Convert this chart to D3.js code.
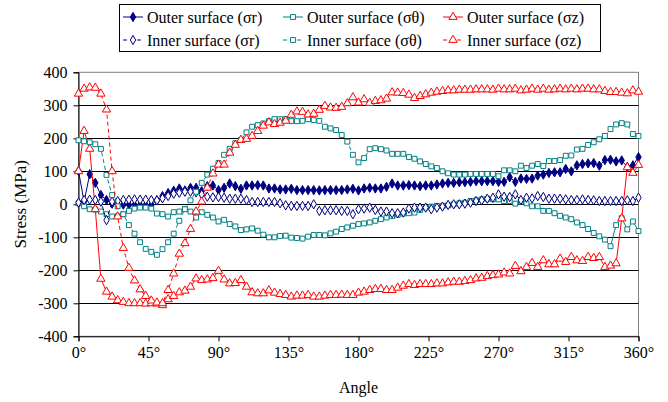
<!DOCTYPE html>
<html>
<head>
<meta charset="utf-8">
<script src="https://cdn.jsdelivr.net/npm/d3@7"></script>
<style>
  html, body { margin: 0; padding: 0; background: #fff; }
  svg { display: block; }
</style>
</head>
<body>
<svg id="chart" width="668" height="402"></svg>
<script>
const FONT = "'Liberation Serif', 'Times New Roman', 'DejaVu Serif', serif";

// Sampling grid: one reading every 3.6 degrees around the circumference (101 stations)
const angleStep = 3.6;
const angles = d3.range(101).map(i => i * angleStep);

// Stress readings in MPa, one value per station
const outerSr = [101, 8, 91, 65, 28, 13, 2, 0, -1, -1, -2, -2, -2, -2, 12, 25, 34, 41, 48, 42,
  50, 50, 40, 55, 57, 43, 50, 63, 55, 47, 57, 57, 58, 57, 48, 48, 45, 45, 47, 43,
  43, 43, 43, 42, 43, 43, 43, 43, 45, 47, 42, 48, 50, 48, 48, 53, 63, 57, 57, 58,
  57, 55, 57, 57, 60, 63, 65, 65, 67, 67, 68, 70, 70, 70, 70, 68, 68, 82, 68, 78,
  77, 78, 87, 90, 95, 97, 97, 107, 100, 118, 122, 124, 125, 117, 134, 135, 130, 133, 113, 118, 143];

const outerSt = [3, -6, -15, -16, -22, -30, -37, -36, -30, -20, -13, -10, -10, -13, -28, -30, -37, -24, -22, -14,
  -22, -40, -24, -32, -40, -52, -47, -60, -67, -78, -76, -73, -80, -92, -100, -100, -96, -95, -101, -102,
  -104, -98, -93, -93, -94, -88, -83, -75, -70, -65, -60, -58, -55, -50, -45, -40, -36, -32, -28, -27,
  -25, -17, -10, -7, -5, -5, -3, 0, 3, 5, 10, 12, 15, 17, 15, 15, 10, 10, 2, 8,
  3, -6, -6, -20, -20, -27, -35, -40, -45, -55, -63, -75, -87, -97, -107, -127, -63, -42, -76, -52, -81];

const outerSz = [100, 222, 168, -15, -226, -265, -280, -291, -296, -300, -300, -300, -301, -300, -301, -306, -288, -278, -267, -262,
  -250, -225, -230, -228, -224, -202, -228, -240, -239, -230, -250, -267, -270, -270, -261, -268, -272, -275, -280, -277,
  -277, -275, -280, -280, -277, -275, -275, -274, -275, -275, -268, -265, -260, -257, -257, -260, -260, -253, -247, -242,
  -245, -242, -242, -242, -240, -240, -237, -235, -235, -233, -230, -225, -223, -218, -215, -213, -207, -210, -187, -203,
  -190, -178, -190, -170, -182, -182, -165, -175, -160, -170, -172, -160, -163, -160, -190, -186, -179, -43, 112, 95, 119];

const innerSr = [5, 13, 14, 13, 8, -48, 8, 10, 13, 14, 15, 14, 14, 13, 12, 18, 25, 32, 35, 38,
  38, 36, 30, 23, 21, 22, 20, 17, 17, 17, 13, 7, 7, 7, 7, 7, 3, -3, -5, -5,
  -5, -5, 0, -20, -18, -18, -18, -20, -20, -30, -15, -13, -10, -17, -22, -22, -27, -27, -25, -13,
  -10, -10, -10, -15, -10, -7, -2, 0, 0, 2, 5, 10, 12, 17, 20, 30, 23, 22, 30, 13,
  20, 18, 25, 22, 17, 17, 17, 15, 13, 13, 15, 13, 12, 10, 10, 10, 10, 10, 12, 10, 20];

const innerSt = [194, 191, 188, 182, 168, 89, 28, -6, -30, -63, -89, -115, -135, -144, -153, -136, -115, -89, -50, -15,
  12, 38, 65, 90, 108, 125, 150, 168, 185, 195, 218, 235, 240, 245, 252, 258, 258, 258, 252, 252,
  253, 258, 255, 253, 235, 230, 225, 210, 190, 150, 127, 140, 167, 170, 167, 163, 153, 153, 153, 143,
  138, 130, 122, 115, 110, 100, 94, 90, 90, 90, 92, 92, 92, 92, 92, 85, 103, 103, 100, 117,
  110, 117, 122, 116, 131, 131, 134, 147, 148, 166, 168, 180, 188, 197, 207, 228, 242, 246, 242, 213, 207];

const innerSz = [335, 350, 354, 353, 335, 287, 100, -37, -133, -193, -231, -258, -278, -292, -298, -300, -260, -210, -150, -118,
  -75, -22, 8, 50, 93, 120, 120, 156, 180, 195, 198, 207, 222, 238, 248, 243, 247, 253, 271, 281,
  280, 272, 274, 286, 298, 293, 292, 295, 306, 324, 308, 318, 307, 313, 315, 320, 339, 338, 337, 332,
  322, 328, 333, 338, 341, 343, 345, 345, 347, 347, 347, 348, 348, 348, 347, 350, 348, 348, 350, 345,
  347, 350, 347, 350, 347, 348, 350, 348, 350, 348, 350, 350, 348, 348, 343, 340, 340, 338, 336, 345, 341];

// Axis ticks
const yTicks = [-400, -300, -200, -100, 0, 100, 200, 300, 400];
const xTicks = [0, 45, 90, 135, 180, 225, 270, 315, 360];

// Series definitions (legend order)
const seriesNames = ["Outer surface (\u03C3r)", "Outer surface (\u03C3\u03B8)", "Outer surface (\u03C3z)",
                     "Inner surface (\u03C3r)", "Inner surface (\u03C3\u03B8)", "Inner surface (\u03C3z)"];
const seriesValues = [outerSr, outerSt, outerSz, innerSr, innerSt, innerSz];

const NAVY = "#000080", TEAL = "#008080", RED = "#ff0000";
const styles = [
  { color: NAVY, dash: null,  marker: "diamond",  fill: NAVY },
  { color: TEAL, dash: null,  marker: "square",   fill: "#fff" },
  { color: RED,  dash: null,  marker: "triangle", fill: "#fff" },
  { color: NAVY, dash: "4,3", marker: "diamond",  fill: "#fff" },
  { color: TEAL, dash: "4,3", marker: "square",   fill: "#fff" },
  { color: RED,  dash: "4,3", marker: "triangle", fill: "#fff" }
];

const svg = d3.select("#chart");
const plot = { left: 78.5, right: 638.5, top: 72.3, bottom: 336.3 };

const x = d3.scaleLinear().domain([0, 360]).range([plot.left, plot.right]);
const y = d3.scaleLinear().domain([-400, 400]).range([plot.bottom, plot.top]);

// Plot-area frame
svg.append("rect")
  .attr("x", plot.left).attr("y", plot.top)
  .attr("width", plot.right - plot.left).attr("height", plot.bottom - plot.top)
  .attr("fill", "none").attr("stroke", "#808080").attr("stroke-width", 1);

// Horizontal gridlines
svg.append("g").selectAll("line")
  .data(yTicks.filter(v => v > -400 && v < 400))
  .join("line")
  .attr("x1", plot.left).attr("x2", plot.right)
  .attr("y1", d => Math.round(y(d)) + 0.5).attr("y2", d => Math.round(y(d)) + 0.5)
  .attr("stroke", "#000").attr("stroke-width", 1);

// Y axis
const yAxis = svg.append("g")
  .attr("transform", `translate(${plot.left},0)`)
  .call(d3.axisLeft(y).tickValues(yTicks).tickSize(5).tickPadding(6).tickFormat(d => String(d)));
yAxis.attr("font-family", null).attr("font-size", null);
yAxis.select(".domain").attr("stroke", "#000");
yAxis.selectAll(".tick line").attr("stroke", "#000");
yAxis.selectAll(".tick text").style("font-family", FONT).style("font-size", "16px").attr("fill", "#000");

// X axis
const xAxis = svg.append("g")
  .attr("transform", `translate(0,${plot.bottom})`)
  .call(d3.axisBottom(x).tickValues(xTicks).tickSize(5).tickPadding(5).tickFormat(d => d + "\u00B0"));
xAxis.attr("font-family", null).attr("font-size", null);
xAxis.select(".domain").attr("stroke", "#000");
xAxis.selectAll(".tick line").attr("stroke", "#000");
xAxis.selectAll(".tick text").style("font-family", FONT).style("font-size", "16px").attr("fill", "#000");

// Axis titles
svg.append("text")
  .attr("transform", `translate(20,${(plot.top + plot.bottom) / 2}) rotate(-90)`)
  .attr("text-anchor", "middle").attr("dominant-baseline", "central")
  .style("font-family", FONT).style("font-size", "17px").text("Stress (MPa)");
svg.append("text")
  .attr("x", (plot.left + plot.right) / 2).attr("y", 393)
  .attr("text-anchor", "middle")
  .style("font-family", FONT).style("font-size", "16px").text("Angle");

// Marker shapes
const symbolFor = {
  diamond: d3.symbol().type(d3.symbolDiamond).size(25),
  square: d3.symbol().type(d3.symbolSquare).size(24),
  triangle: d3.symbol().type(d3.symbolTriangle).size(30)
};

const line = d3.line().x(d => x(d[0])).y(d => y(d[1]));

const clipId = "plotClip";
svg.append("clipPath").attr("id", clipId).append("rect")
  .attr("x", plot.left - 6).attr("y", plot.top - 6)
  .attr("width", plot.right - plot.left + 12).attr("height", plot.bottom - plot.top + 12);

const seriesLayer = svg.append("g").attr("clip-path", `url(#${clipId})`);

seriesValues.forEach((vals, i) => {
  const st = styles[i];
  const pts = angles.map((a, j) => [a, vals[j]]);
  const g = seriesLayer.append("g");
  g.append("path")
    .attr("d", line(pts))
    .attr("fill", "none")
    .attr("stroke", st.color)
    .attr("stroke-width", 1)
    .attr("stroke-dasharray", st.dash);
  g.selectAll("path.m")
    .data(pts)
    .join("path")
    .attr("class", "m")
    .attr("transform", d => `translate(${x(d[0])},${y(d[1])})`)
    .attr("d", symbolFor[st.marker])
    .attr("fill", st.fill)
    .attr("stroke", st.color)
    .attr("stroke-width", 1);
});

// Legend
const legend = svg.append("g");
legend.append("rect")
  .attr("x", 119.5).attr("y", 4.5).attr("width", 481).attr("height", 47)
  .attr("fill", "#fff").attr("stroke", "#000").attr("stroke-width", 1);

const colX = [123, 283, 443];
const rowY = [17, 40];
seriesNames.forEach((name, i) => {
  const st = styles[i];
  const cx = colX[i % 3], cy = rowY[Math.floor(i / 3)];
  const item = legend.append("g");
  item.append("line")
    .attr("x1", cx).attr("x2", cx + 20).attr("y1", cy).attr("y2", cy)
    .attr("stroke", st.color).attr("stroke-width", 1)
    .attr("stroke-dasharray", st.dash);
  item.append("path")
    .attr("transform", `translate(${cx + 10},${cy})`)
    .attr("d", symbolFor[st.marker])
    .attr("fill", st.fill).attr("stroke", st.color);
  item.append("text")
    .attr("x", cx + 24).attr("y", cy)
    .attr("dominant-baseline", "central")
    .style("font-family", FONT).style("font-size", "16px").text(name);
});
</script>
</body>
</html>
